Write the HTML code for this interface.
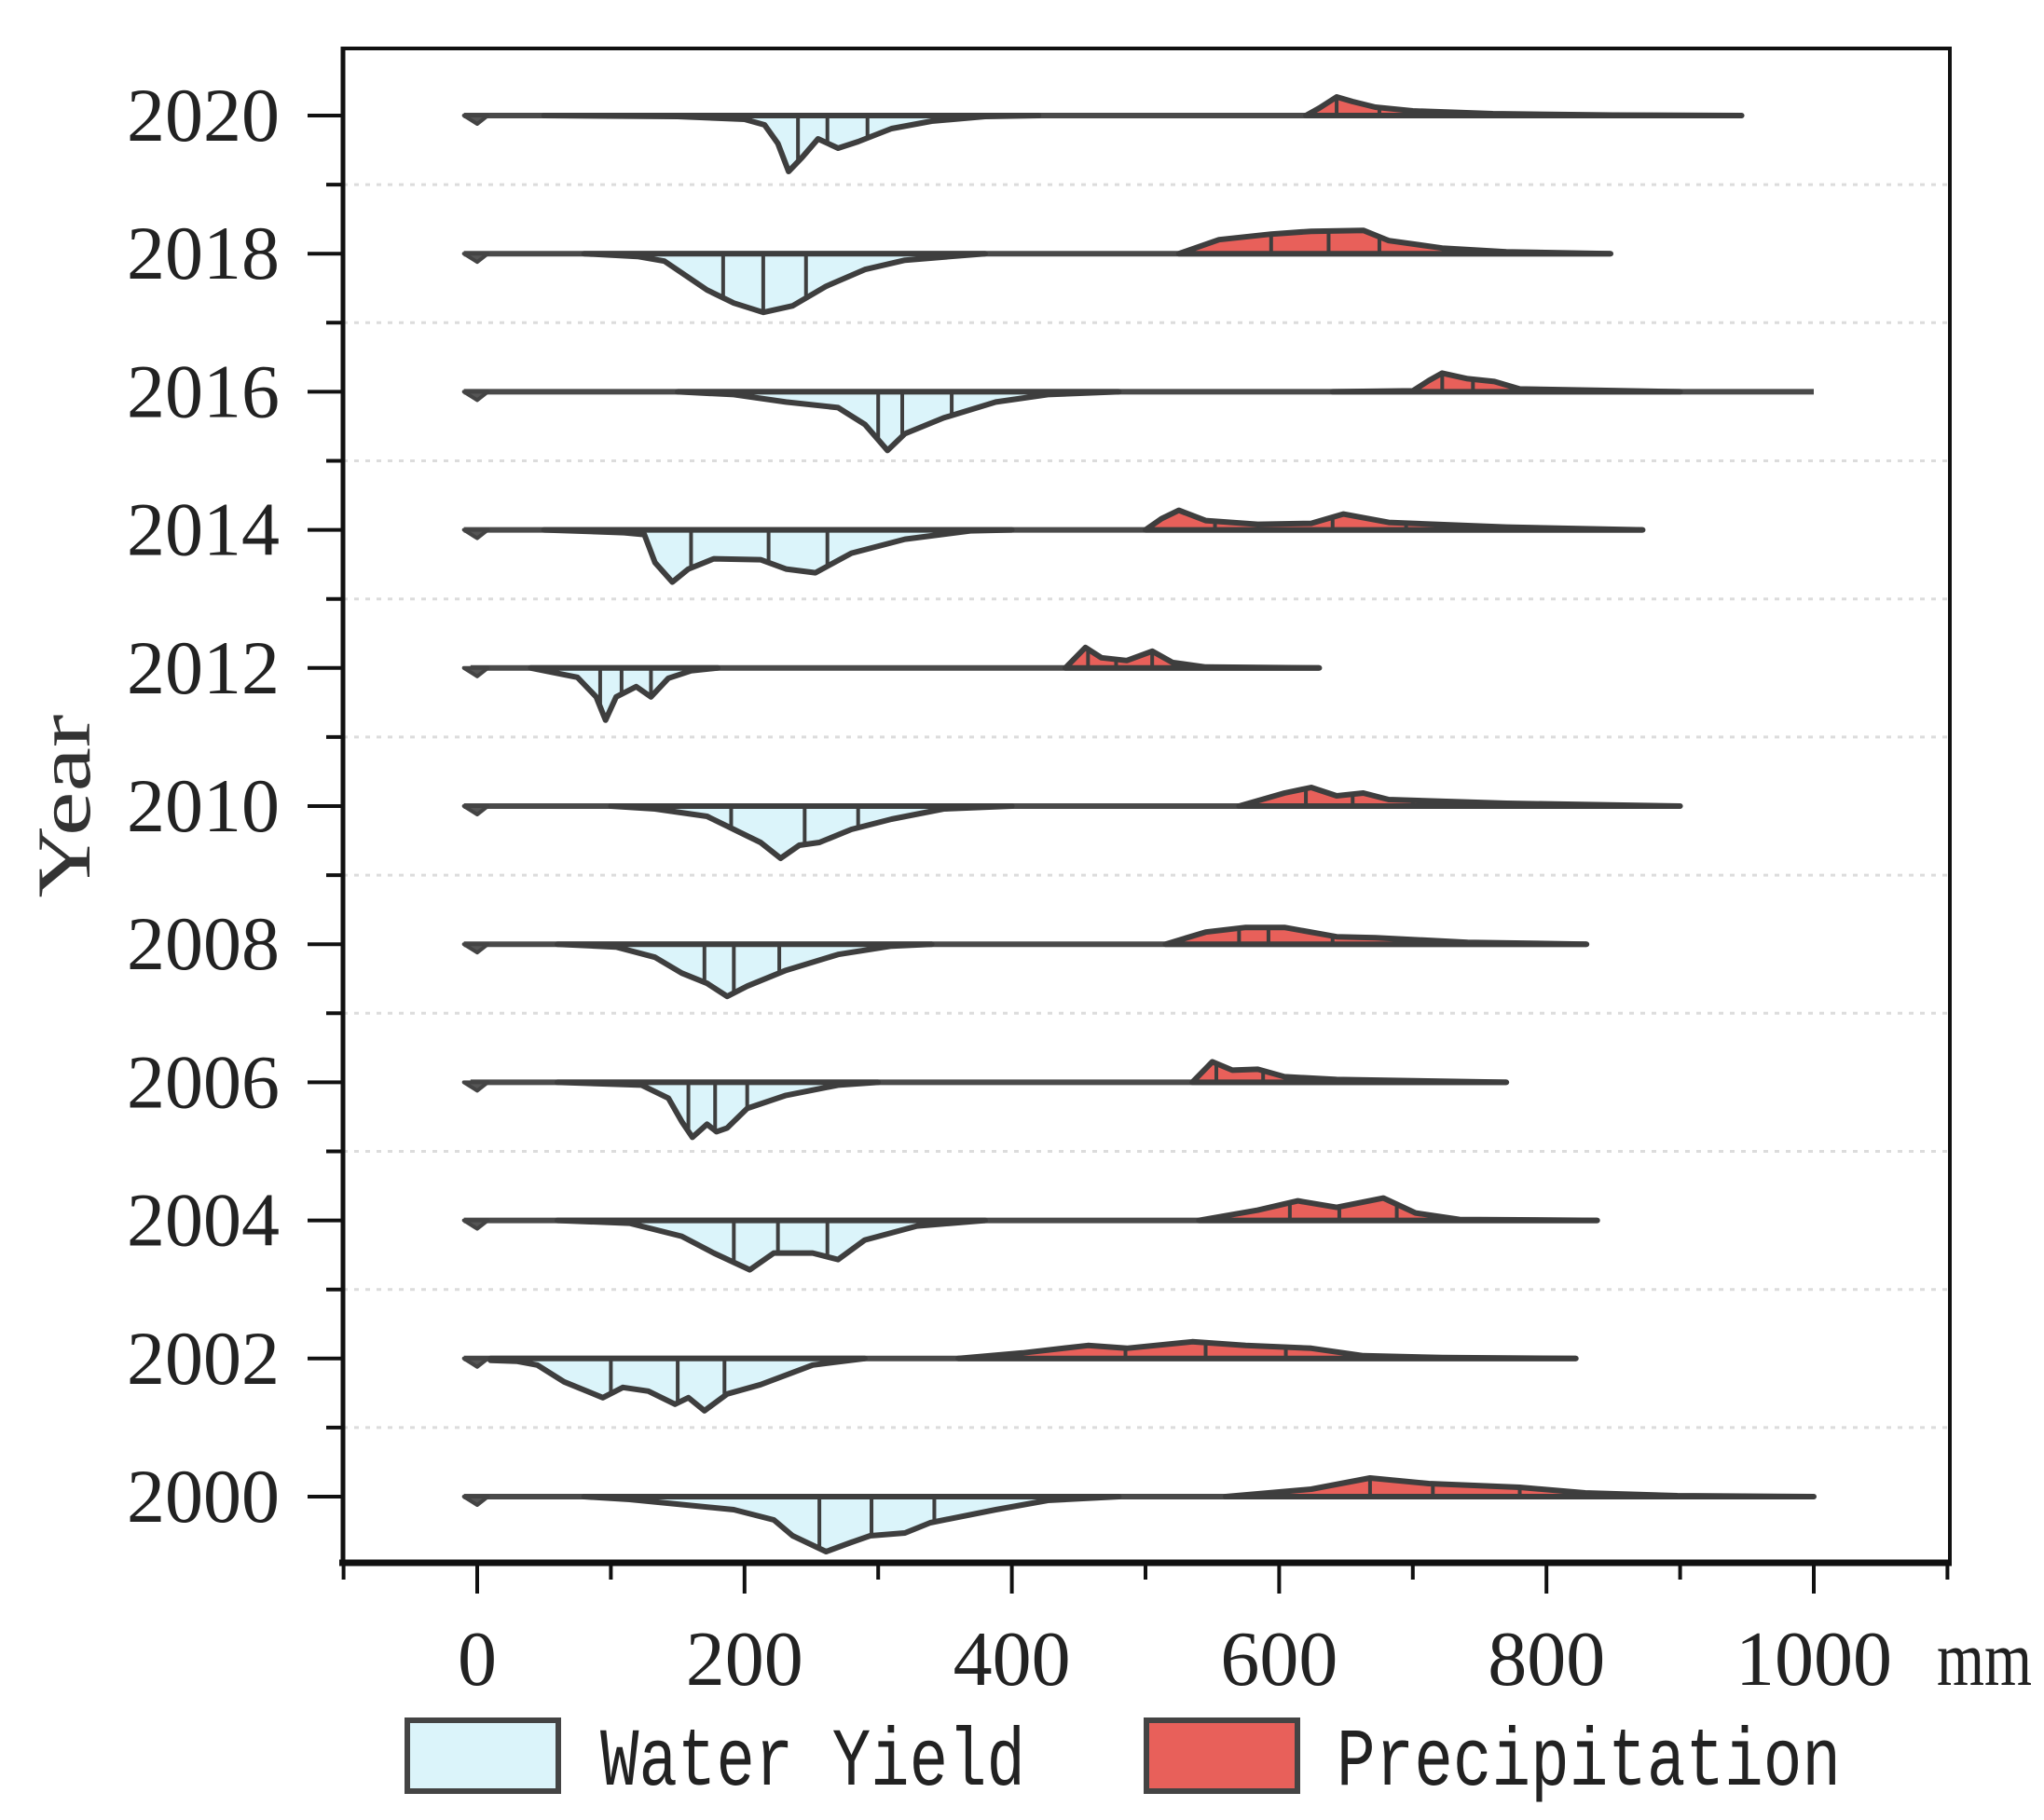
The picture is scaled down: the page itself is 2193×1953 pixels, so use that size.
<!DOCTYPE html>
<html><head><meta charset="utf-8"><style>
html,body{margin:0;padding:0;background:#fff;}
svg{display:block;}
</style></head><body>
<svg id="chart" width="2193" height="1953" viewBox="0 0 2193 1953" xmlns="http://www.w3.org/2000/svg">
<rect x="0" y="0" width="2193" height="1953" fill="#fff"/>
<g id="grid"></g>
<g id="series"></g>
<g id="axes"></g>
<text x="0" y="0" transform="translate(96,865) rotate(-90)" text-anchor="middle" font-family="Liberation Serif, serif" font-size="82" fill="#333" textLength="197" lengthAdjust="spacingAndGlyphs">Year</text>
<text x="2078" y="1808" font-family="Liberation Serif, serif" font-size="84" fill="#222" textLength="102" lengthAdjust="spacingAndGlyphs">mm</text>
<g>
<rect x="437" y="1846" width="162" height="76" fill="#dbf4fa" stroke="#444" stroke-width="6"/>
<text x="644" y="1915" font-family="Liberation Mono, monospace" font-size="88" fill="#222" textLength="456" lengthAdjust="spacingAndGlyphs">Water Yield</text>
<rect x="1230" y="1846" width="162" height="76" fill="#e8605a" stroke="#444" stroke-width="6"/>
<text x="1434" y="1915" font-family="Liberation Mono, monospace" font-size="88" fill="#222" textLength="541" lengthAdjust="spacingAndGlyphs">Precipitation</text>
</g>
</svg>
<script>
const years = [2020,2018,2016,2014,2012,2010,2008,2006,2004,2002,2000];
const xTicks = [0,200,400,600,800,1000];
const lineExtent = [[-10,946],[-10,848],[-10,1000],[-10,872],[-5,630],[-10,900],[-10,830],[-5,770],[-10,838],[-10,822],[-10,1000]];
const waterYield = [
 [[50,0],[150,1],[200,4],[215,10],[225,30],[233,60],[243,45],[255,25],[270,35],[285,28],[310,14],[340,6],[380,1],[420,0]],
 [[80,0],[120,3],[140,8],[172,39],[192,53],[214,63],[236,56],[261,35],[290,17],[320,7],[380,0]],
 [[150,0],[192,3],[231,11],[270,17],[290,35],[307,63],[320,45],[349,28],[388,11],[427,3],[480,0]],
 [[50,0],[110,3],[125,5],[133,35],[146,56],[158,42],[177,31],[212,32],[231,42],[253,46],[280,25],[320,10],[369,1],[400,0]],
 [[40,0],[75,10],[89,31],[96,56],[104,31],[119,20],[130,31],[143,11],[160,3],[180,0]],
 [[100,0],[133,3],[172,11],[192,25],[212,39],[227,56],[241,42],[256,39],[280,25],[310,14],[349,3],[400,0]],
 [[60,0],[104,3],[133,14],[153,31],[172,42],[187,56],[202,45],[231,28],[270,11],[310,2],[340,0]],
 [[60,0],[123,3],[143,17],[153,42],[161,59],[172,45],[179,53],[187,49],[202,28],[231,14],[270,3],[300,0]],
 [[60,0],[114,3],[153,17],[177,35],[204,53],[222,35],[251,35],[270,42],[290,21],[329,6],[380,0]],
 [[10,2],[30,3],[45,7],[65,25],[94,42],[109,31],[128,35],[148,49],[158,42],[170,56],[187,38],[212,28],[251,7],[290,0]],
 [[80,0],[114,3],[192,14],[222,25],[236,42],[261,59],[280,49],[294,42],[320,39],[339,28],[388,14],[427,4],[480,0]]
];
const waterQuartiles = [[240,262,292],[184,214,246],[300,318,355],[160,218,262],[92,108,130],[190,245,285],[170,192,226],[158,178,202],[192,225,262],[100,150,185],[256,295,342]];
const precipitation = [
 [[620,0],[630,8],[643,20],[655,15],[672,9],[700,5],[760,2],[850,0.5],[946,0]],
 [[525,0],[555,15],[594,21],[624,24],[663,25],[682,14],[722,6],[770,2],[848,0]],
 [[640,0],[700,1],[712,12],[722,20],[741,14],[761,11],[780,3],[840,1.5],[900,0]],
 [[500,0],[512,12],[525,21],[545,10],[584,6],[624,7],[648,17],[682,8],[770,3],[872,0]],
 [[440,0],[455,22],[467,11],[486,8],[505,18],[520,6],[545,1],[630,0]],
 [[570,0],[604,14],[624,20],[643,11],[663,14],[682,7],[770,3],[900,0]],
 [[515,0],[545,13],[575,18],[604,18],[643,8],[672,7],[741,2],[830,0]],
 [[535,0],[550,22],[565,13],[584,14],[604,6],[643,3],[770,0]],
 [[540,0],[584,11],[614,21],[643,14],[678,24],[702,8],[735,1],[838,0]],
 [[360,0],[408,6],[457,14],[486,11],[535,18],[575,14],[624,11],[663,3],[722,1],[822,0]],
 [[560,0],[624,8],[668,20],[712,14],[780,10],[829,4],[898,1],[1000,0]]
];
const precipQuartiles = [[643,675],[594,637,675],[722,745],[552,640,695],[457,478,505],[620,655,700],[570,592,640],[553,588],[608,645,688],[485,545,605],[668,715,780]];

const NS='http://www.w3.org/2000/svg';
const X0=368,X1=2092,Y0=52,Y1=1677;
function xs(mm){return 512+mm*1.434;}
function ys(yr){return 124+(2020-yr)*74.1;}
function mk(tag,attrs,parent){const e=document.createElementNS(NS,tag);for(const k in attrs)e.setAttribute(k,attrs[k]);parent.appendChild(e);return e;}
function interp(pts,mm){for(let i=0;i<pts.length-1;i++){const a=pts[i],b=pts[i+1];if(mm>=a[0]&&mm<=b[0]){return a[1]+(b[1]-a[1])*(mm-a[0])/(b[0]-a[0]);}}return 0;}
const grid=document.getElementById('grid'),series=document.getElementById('series'),axes=document.getElementById('axes');

for(let yr=2019;yr>2000;yr-=2){
 const g=mk('line',{x1:X0,x2:X1,y1:ys(yr),y2:ys(yr),stroke:'#dcdcdc','stroke-width':3,'stroke-dasharray':'5 7'},grid);
 
 
}

years.forEach((yr,i)=>{
 const base=ys(yr);
 const grp=mk('g',{},series);
 
 
 const bl=mk('line',{x1:xs(lineExtent[i][0]),x2:xs(lineExtent[i][1]),y1:base,y2:base,stroke:'#4a4a4a','stroke-width':6},grp);
 
 
 const dp=mk('path',{d:`M${xs(-10)},${base} L${xs(0)},${base+9} L${xs(8)},${base} Z`,fill:'#555',stroke:'#444','stroke-width':4,'stroke-linejoin':'round'},grp);
 
 
 const wy=waterYield[i];
 let d=`M${xs(wy[0][0])},${base}`;
 wy.forEach(p=>{d+=` L${xs(p[0]).toFixed(1)},${(base+p[1]).toFixed(1)}`;});
 d+=` L${xs(wy[wy.length-1][0])},${base} Z`;
 const wp=mk('path',{d:d,fill:'#dbf4fa',stroke:'#3e3e3e','stroke-width':6,'stroke-linejoin':'round'},grp);
 
 
 waterQuartiles[i].forEach(q=>{
  const ql=mk('line',{x1:xs(q),x2:xs(q),y1:base,y2:base+interp(wy,q),stroke:'#3e3e3e','stroke-width':4},grp);
  
  
 });
 const pr=precipitation[i];
 let d2=`M${xs(pr[0][0])},${base}`;
 pr.forEach(p=>{d2+=` L${xs(p[0]).toFixed(1)},${(base-p[1]).toFixed(1)}`;});
 d2+=` L${xs(pr[pr.length-1][0])},${base} Z`;
 const pp=mk('path',{d:d2,fill:'#e8605a',stroke:'#3e3e3e','stroke-width':6,'stroke-linejoin':'round'},grp);
 
 
 precipQuartiles[i].forEach(q=>{
  const ql=mk('line',{x1:xs(q),x2:xs(q),y1:base,y2:base-interp(pr,q),stroke:'#3e3e3e','stroke-width':4},grp);
  
  
 });
 const t=mk('text',{x:300,y:base+27,'text-anchor':'end','font-family':'Liberation Serif, serif','font-size':82,fill:'#222'},axes);
 t.textContent=yr;
 
 
});

const fr=mk('rect',{x:X0,y:Y0,width:X1-X0,height:Y1-Y0,fill:'none',stroke:'#111','stroke-width':4},axes);


const bx=mk('line',{x1:X0-4,x2:X1+2,y1:Y1,y2:Y1,stroke:'#111','stroke-width':7},axes);


const lx=mk('line',{x1:X0,x2:X0,y1:Y0-2,y2:Y1+2,stroke:'#111','stroke-width':5},axes);



for(let mm=-100;mm<=1100;mm+=100){
 const major=(mm%200===0);
 const tk=mk('line',{x1:xs(mm),x2:xs(mm),y1:Y1,y2:Y1+(major?33:18),stroke:'#111','stroke-width':4},axes);
 
 
}
xTicks.forEach(v=>{
 const t=mk('text',{x:xs(v),y:1808,'text-anchor':'middle','font-family':'Liberation Serif, serif','font-size':84,fill:'#222'},axes);
 t.textContent=v;
 
 
});
for(let yr=2021;yr>=1999;yr--){
 const y=ys(yr);
 if(y<Y0||y>Y1)continue;
 const major=(yr%2===0);
 const tk=mk('line',{x1:X0,x2:X0-(major?38:18),y1:y,y2:y,stroke:'#111','stroke-width':4},axes);
 
 
}
</script>
</body></html>
